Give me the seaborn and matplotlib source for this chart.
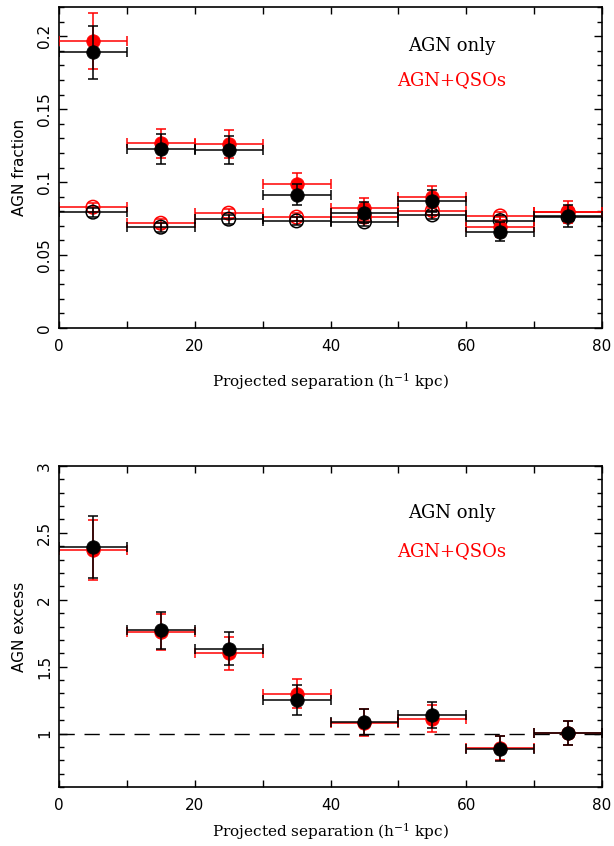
import numpy as np
import pandas as pd
import matplotlib
matplotlib.use("Agg")
import matplotlib.pyplot as plt
from matplotlib.ticker import MultipleLocator, FuncFormatter
import seaborn as sns

# ---------------- data ----------------
sep_bins = [5, 15, 25, 35, 45, 55, 65, 75]
bin_halfwidth = [5, 5, 5, 5, 5, 5, 5, 5]

# top panel: AGN fraction (filled = pairs, open = control)
frac_agn_pair = [0.189, 0.1227, 0.122, 0.0914, 0.0791, 0.0873, 0.066, 0.0765]
frac_agn_pair_err = [0.018, 0.010, 0.0095, 0.007, 0.007, 0.0075, 0.0065, 0.0075]
frac_qso_pair = [0.1966, 0.1266, 0.126, 0.0985, 0.082, 0.090, 0.0693, 0.0796]
frac_qso_pair_err = [0.019, 0.010, 0.0095, 0.0075, 0.0074, 0.0076, 0.007, 0.0075]
frac_agn_ctrl = [0.0794, 0.0691, 0.0746, 0.0734, 0.0727, 0.0775, 0.0736, 0.0760]
frac_agn_ctrl_err = [0.003, 0.003, 0.003, 0.003, 0.003, 0.003, 0.003, 0.003]
frac_qso_ctrl = [0.0828, 0.0718, 0.0787, 0.0760, 0.0760, 0.0805, 0.0768, 0.0796]
frac_qso_ctrl_err = [0.003, 0.003, 0.003, 0.003, 0.003, 0.003, 0.003, 0.003]

# bottom panel: AGN excess
exc_agn = [2.393, 1.772, 1.635, 1.249, 1.087, 1.137, 0.888, 1.007]
exc_agn_err = [0.23, 0.14, 0.125, 0.11, 0.10, 0.095, 0.09, 0.09]
exc_qso = [2.37, 1.76, 1.60, 1.299, 1.08, 1.112, 0.89, 1.005]
exc_qso_err = [0.224, 0.135, 0.125, 0.105, 0.10, 0.10, 0.09, 0.09]

label_agn = "AGN only"
label_qso = "AGN+QSOs"
xlabel = r"Projected separation (h$^{-1}$ kpc)"

# ---------------- style ----------------
sns.set_style("ticks")
plt.rcParams["font.family"] = ["DejaVu Sans"]
plt.rcParams["mathtext.fontset"] = "dejavuserif"
plt.rcParams["text.color"] = "black"
plt.rcParams["axes.labelcolor"] = "black"
RED = "#ff0000"
BLK = "#000000"

fig = plt.figure(figsize=(6.14, 8.46), dpi=100)
ax1 = fig.add_axes([0.0961, 0.6123, 0.8844, 0.3794])
ax2 = fig.add_axes([0.0961, 0.0697, 0.8844, 0.3795])

MS = 95
CAP = 3.6
LW = 1.1


def bars(ax, x, y, yerr, color, z):
    ax.errorbar(x, y, xerr=bin_halfwidth, yerr=yerr, fmt="none", ecolor=color,
                elinewidth=LW, capsize=CAP, capthick=LW, zorder=z)


def filled(ax, x, y, color, z):
    df = pd.DataFrame({"x": x, "y": y})
    sns.scatterplot(data=df, x="x", y="y", ax=ax, color=color, s=MS,
                    edgecolor=color, linewidth=0.5, zorder=z, legend=False)


def opened(ax, x, y, color, z):
    df = pd.DataFrame({"x": x, "y": y})
    sns.scatterplot(data=df, x="x", y="y", ax=ax, s=MS, facecolor="none",
                    edgecolor=color, linewidth=1.1, zorder=z, legend=False)


# top panel
bars(ax1, sep_bins, frac_qso_ctrl, frac_qso_ctrl_err, RED, 2)
opened(ax1, sep_bins, frac_qso_ctrl, RED, 3)
bars(ax1, sep_bins, frac_agn_ctrl, frac_agn_ctrl_err, BLK, 4)
opened(ax1, sep_bins, frac_agn_ctrl, BLK, 5)
bars(ax1, sep_bins, frac_qso_pair, frac_qso_pair_err, RED, 6)
filled(ax1, sep_bins, frac_qso_pair, RED, 7)
bars(ax1, sep_bins, frac_agn_pair, frac_agn_pair_err, BLK, 8)
filled(ax1, sep_bins, frac_agn_pair, BLK, 9)

# bottom panel
ax2.plot([0, 80], [1, 1], color=BLK, lw=1.0, dashes=(11, 7), zorder=1)
bars(ax2, sep_bins, exc_qso, exc_qso_err, RED, 2)
filled(ax2, sep_bins, exc_qso, RED, 3)
bars(ax2, sep_bins, exc_agn, exc_agn_err, BLK, 4)
filled(ax2, sep_bins, exc_agn, BLK, 5)

ax1.set_xlim(0, 80)
ax1.set_ylim(0, 0.22)
ax2.set_xlim(0, 80)
ax2.set_ylim(0.6, 3.0)

ax1.yaxis.set_major_locator(MultipleLocator(0.05))
ax1.yaxis.set_minor_locator(MultipleLocator(0.01))
ax1.yaxis.set_major_formatter(FuncFormatter(lambda v, p: "0" if abs(v) < 1e-9 else f"{v:g}"))
ax2.yaxis.set_major_locator(MultipleLocator(0.5))
ax2.yaxis.set_minor_locator(MultipleLocator(0.1))
ax2.yaxis.set_major_formatter(FuncFormatter(lambda v, p: f"{v:g}"))

for ax, ylab, lpad in ((ax1, "AGN fraction", 12), (ax2, "AGN excess", 6)):
    ax.xaxis.set_major_locator(MultipleLocator(20))
    ax.xaxis.set_minor_locator(MultipleLocator(10))
    ax.tick_params(axis="both", which="both", direction="in", top=True, right=True,
                   width=1.0, colors=BLK, labelsize=11)
    ax.tick_params(axis="y", which="major", length=6)
    ax.tick_params(axis="y", which="minor", length=3.5)
    ax.tick_params(axis="x", which="both", length=5)
    ax.tick_params(axis="x", pad=8)
    ax.tick_params(axis="y", pad=5)
    for lab in ax.get_yticklabels():
        lab.set_rotation(90)
        lab.set_va("center")
    for s in ax.spines.values():
        s.set_linewidth(1.2)
        s.set_color(BLK)
    ax.set_xlabel(xlabel, fontsize=11, family="DejaVu Serif", labelpad=lpad, color=BLK)
    ax.set_ylabel(ylab, fontsize=11, labelpad=7, color=BLK)

ax1.text(57.8, 0.1935, label_agn, color=BLK, fontsize=13, family="DejaVu Serif",
         ha="center", va="center")
ax1.text(57.8, 0.1700, label_qso, color=RED, fontsize=13, family="DejaVu Serif",
         ha="center", va="center")
ax2.text(57.8, 2.646, label_agn, color=BLK, fontsize=13, family="DejaVu Serif",
         ha="center", va="center")
ax2.text(57.8, 2.366, label_qso, color=RED, fontsize=13, family="DejaVu Serif",
         ha="center", va="center")

fig.savefig("out.png", dpi=100)
